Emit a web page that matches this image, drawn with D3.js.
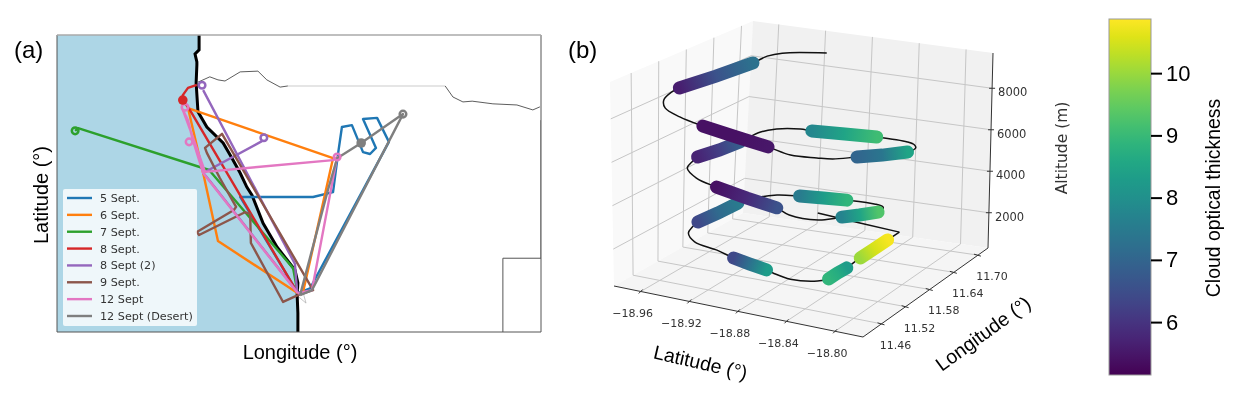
<!DOCTYPE html>
<html>
<head>
  <meta charset="utf-8">
  <title>Flight tracks and cloud optical thickness</title>
  <script src="https://d3js.org/d3.v7.min.js"></script>
  <style>
    html, body { margin: 0; padding: 0; background: #fff; }
    svg { display: block; filter: blur(0.5px); }
    .sans { font-family: "Liberation Sans", Arial, sans-serif; }
    .tick { font-family: "DejaVu Sans", sans-serif; fill: #333; }
  </style>
</head>
<body>
  <svg width="1236" height="397"></svg>

  <script>
    // ---- panel (a): lon,lat in degrees
    const coast = [[11.78,-16.12],[11.78,-16.51],[11.67,-16.62],[11.72,-16.83],[11.72,-16.91],[11.70,-17.38],[11.75,-18.14],[11.99,-18.54],[12.43,-18.96],[12.67,-19.36],[12.89,-19.75],[13.07,-20.12],[13.21,-20.33],[13.51,-21.07],[13.89,-21.70],[14.37,-22.30],[14.45,-22.64],[14.43,-22.96],[14.45,-23.43],[14.45,-23.93]];
    const kunene = [[11.75,-17.36],[12.07,-17.22],[12.29,-17.30],[12.48,-17.33],[12.89,-17.09],[13.37,-17.07],[13.61,-17.30],[13.97,-17.49],[14.18,-17.46]];
    const straightBorder = [[14.18,-17.46],[18.43,-17.46]];
    const zambezi = [[18.43,-17.46],[18.64,-17.75],[18.91,-17.88],[19.16,-17.86],[19.72,-17.93],[20.37,-17.96],[20.80,-18.09],[20.99,-18.01]];
    const eastBorder = [[21.02,-18.36],[21.02,-21.99],[19.99,-21.99],[19.99,-23.93]];
    const hubMark = [[14.45,-22.99],[14.67,-23.17],[14.61,-22.96]];

    const flightNames = ["5 Sept.","6 Sept.","7 Sept.","8 Sept.","8 Sept (2)","9 Sept.","12 Sept","12 Sept (Desert)"];
    const flightColors = ["#1f77b4","#ff7f0e","#2ca02c","#d62728","#9467bd","#8c564b","#e377c2","#7f7f7f"];
    const sept5 = [[14.45,-22.91],[12.89,-20.38],[14.86,-20.38],[15.40,-20.25],[15.53,-19.28],[15.64,-18.54],[15.91,-18.49],[16.21,-19.20],[16.40,-19.25],[16.56,-19.09],[16.21,-18.33],[16.59,-18.30],[16.91,-18.93],[14.78,-22.78],[14.45,-22.91]];
    const sept6 = [[14.45,-22.91],[12.29,-21.54],[11.89,-19.75],[11.48,-18.04],[15.40,-19.36],[14.59,-22.88]];
    const sept7 = [[14.43,-22.83],[14.32,-22.25],[12.05,-19.67],[8.51,-18.57],[8.43,-18.64]];
    const sept8 = [[14.43,-22.88],[11.53,-18.09],[11.34,-17.83],[11.34,-17.70],[11.48,-17.51],[11.72,-17.43]];
    const sept8b = [[14.43,-22.88],[14.37,-22.14],[11.89,-17.57]];
    const sept8c = [[14.43,-22.88],[11.99,-19.86],[11.89,-19.75],[13.48,-18.91]];
    const sept9 = [[14.45,-22.96],[14.05,-23.14],[13.18,-21.59],[13.16,-20.83],[13.02,-20.78],[11.78,-21.38],[11.72,-21.30],[12.72,-20.72],[12.78,-20.64],[12.34,-19.88],[11.99,-19.22],[11.94,-19.09],[12.40,-18.72],[14.86,-22.83],[14.45,-22.96]];
    const sept12 = [[14.45,-22.91],[11.89,-19.75],[11.61,-18.88],[11.48,-18.36],[11.34,-18.09],[11.61,-18.80],[11.94,-19.72],[15.40,-19.41],[15.51,-19.33],[14.83,-22.83],[14.45,-22.91]];
    const sept12d = [[14.51,-22.96],[15.26,-20.20],[15.51,-19.36],[16.16,-18.96],[17.29,-18.20],[14.83,-22.83],[14.51,-22.96]];
    const flights = [sept5, sept6, sept7, sept8, sept8b, sept8c, sept9, sept12, sept12d];
    const flightColorIdx = [0,1,2,3,4,4,5,6,7];
    const startDots = [[11.34,-17.83,3],[16.16,-18.96,7]];  // lon, lat, flight index
    const turnRings = [[8.43,-18.64,2],[11.86,-17.44,4],[13.53,-18.82,4],[11.51,-18.93,6],[11.40,-18.02,6],[15.51,-19.33,6],[17.29,-18.20,7]];

    // ---- panel (b): one flight, black track with thick retrievals
    const trackLat = [-18.908,-18.937,-18.944,-18.948,-18.959,-18.971,-18.973,-18.970,-18.962,-18.945,-18.923,
      -18.898,-18.875,-18.857,-18.840,-18.830,-18.818,-18.806,-18.795,-18.796,-18.801,-18.810,
      -18.838,-18.867,-18.897,-18.908,-18.926,-18.935,-18.940,-18.948,-18.958,-18.958,-18.955,
      -18.939,-18.919,-18.894,-18.871,-18.858,-18.837,-18.829,-18.827,-18.820,-18.813,-18.814,
      -18.817,-18.826,-18.850,-18.871,-18.892,-18.910,-18.921,-18.933,-18.938,-18.944,-18.943,
      -18.940,-18.929,-18.911,-18.897,-18.884,-18.871,-18.865,-18.849,-18.830,-18.825,-18.825,
      -18.824,-18.825,-18.825,-18.825,-18.825,-18.825,-18.861,-18.900];
    const trackLon = [11.697,11.674,11.659,11.638,11.585,11.536,11.525,11.499,11.480,11.466,11.457,
      11.463,11.471,11.472,11.485,11.494,11.517,11.543,11.572,11.595,11.607,11.616,
      11.623,11.630,11.637,11.641,11.636,11.624,11.590,11.565,11.543,11.530,11.511,
      11.487,11.477,11.477,11.481,11.473,11.481,11.499,11.509,11.531,11.556,11.571,
      11.580,11.588,11.589,11.593,11.597,11.595,11.586,11.568,11.535,11.505,11.489,
      11.471,11.454,11.455,11.454,11.455,11.457,11.455,11.450,11.460,11.472,11.494,
      11.514,11.542,11.550,11.583,11.617,11.646,11.655,11.666];
    const trackAlt = [9000,9000,8950,8800,8600,8400,8300,8200,8100,8000,7900,
      7600,7300,7100,7000,6950,6900,6800,6700,6600,6550,6500,
      6400,6200,6000,5950,5850,5750,5600,5400,5200,5100,5050,
      5000,4900,4650,4400,4300,4200,4150,4100,4000,3900,3850,
      3800,3750,3700,3550,3400,3300,3200,3000,2850,2700,2650,
      2600,2500,2300,2100,1950,1800,1750,1700,1700,1700,1700,
      1700,1700,1700,1700,1700,1700,1700,1700];
    const trackCot = [null,null,null,7.3,6.6,5.6,null,null,null,null,5.4,
      5.4,5.5,null,null,null,7.0,7.4,8.5,null,null,null,
      9.1,8.5,7.8,null,null,null,6.9,6.2,5.7,null,null,
      null,5.4,5.8,6.6,null,null,null,7.7,8.5,9.3,null,
      null,null,8.9,8.3,7.5,null,null,7.5,7.1,6.4,null,
      null,null,null,6.4,7.3,8.3,null,null,null,8.9,8.7,
      8.3,null,10.0,10.5,10.8,null,null,null];
    const latTicks = [-18.96,-18.92,-18.88,-18.84,-18.80];
    const lonTicks = [11.46,11.52,11.58,11.64,11.70];
    const altTicks = [2000,4000,6000,8000];
    const cotTicks = [6,7,8,9,10];

    const svg = d3.select("svg");
    const minus = v => String(v).replace("-", "\u2212");

    // panel (a)
    const mapX = d3.scaleLinear().domain([7.94,21.02]).range([57,541]);
    const mapY = d3.scaleLinear().domain([-23.93,-16.12]).range([332,35]);
    const mapLine = d3.line().x(d => mapX(d[0])).y(d => mapY(d[1]));

    svg.append("clipPath").attr("id","mapclip").append("rect")
      .attr("x",57).attr("y",35).attr("width",484).attr("height",297);
    const map = svg.append("g").attr("clip-path","url(#mapclip)");

    map.append("path")
      .attr("d", mapLine([[7.94,-16.12]].concat(coast, [[7.94,-23.93]])) + "Z")
      .attr("fill","#add6e6");
    map.append("path").attr("d",mapLine(kunene)).attr("fill","none").attr("stroke","#333").attr("stroke-width",0.8);
    map.append("path").attr("d",mapLine(straightBorder)).attr("fill","none").attr("stroke","#ddd").attr("stroke-width",1.5);
    map.append("path").attr("d",mapLine(zambezi)).attr("fill","none").attr("stroke","#333").attr("stroke-width",0.8);
    map.append("path").attr("d",mapLine(eastBorder)).attr("fill","none").attr("stroke","#555").attr("stroke-width",1);
    map.append("path").attr("d",mapLine(hubMark)).attr("fill","none").attr("stroke","#aaa").attr("stroke-width",0.7);
    map.append("path").attr("d",mapLine(coast)).attr("fill","none").attr("stroke","#000").attr("stroke-width",3);

    flights.forEach((f,i) => {
      map.append("path").attr("d",mapLine(f)).attr("fill","none")
        .attr("stroke",flightColors[flightColorIdx[i]]).attr("stroke-width",2.4)
        .attr("stroke-linejoin","round");
    });
    turnRings.forEach(d => {
      map.append("circle").attr("cx",mapX(d[0])).attr("cy",mapY(d[1])).attr("r",3.3)
        .attr("fill","none").attr("stroke",flightColors[d[2]]).attr("stroke-width",2.5);
    });
    startDots.forEach(d => {
      map.append("circle").attr("cx",mapX(d[0])).attr("cy",mapY(d[1])).attr("r",4.8).attr("fill",flightColors[d[2]]);
    });

    svg.append("path").attr("d","M57,35V332H541V35").attr("fill","none").attr("stroke","#555").attr("stroke-width",1);
    svg.append("path").attr("d","M57,35H541").attr("fill","none").attr("stroke","#aaa").attr("stroke-width",1.5);

    svg.append("rect").attr("x",63).attr("y",189).attr("width",134).attr("height",137).attr("rx",2)
      .attr("fill","#fff").attr("fill-opacity",0.8);
    const legendY = d3.scalePoint().domain(flightNames).range([198,316]);
    flightNames.forEach((n,i) => {
      const y = legendY(n);
      svg.append("line").attr("x1",67).attr("x2",92).attr("y1",y).attr("y2",y)
        .attr("stroke",flightColors[i]).attr("stroke-width",2.4);
      svg.append("text").attr("class","tick").attr("x",100).attr("y",y+4)
        .attr("font-size",11.2).text(n);
    });

    svg.append("text").attr("class","sans").attr("x",14).attr("y",58).attr("font-size",24).text("(a)");
    svg.append("text").attr("class","sans").attr("x",300).attr("y",359).attr("font-size",20)
      .attr("text-anchor","middle").text("Longitude (°)");
    svg.append("text").attr("class","sans").attr("font-size",20).attr("text-anchor","middle")
      .attr("transform","translate(48,195) rotate(-90)").text("Latitude (°)");

    // panel (b): the box corners stand in for matplotlib's 3D projection
    const u = d3.scaleLinear().domain([-18.982,-18.777]).range([0,1]);
    const v = d3.scaleLinear().domain([11.414,11.725]).range([0,1]);
    const w = d3.scaleLinear().domain([300,9700]).range([0,1]);
    const floorBox = [[614,286],[863,337],[988,248],[743,213]];
    const topBox = [[610,82],[866,132],[993,53],[753,21]];
    const bilinear = (c,a,b) => [0,1].map(i =>
      (1-a)*(1-b)*c[0][i] + a*(1-b)*c[1][i] + a*b*c[2][i] + (1-a)*b*c[3][i]);
    function project(lat, lon, alt) {
      const a = u(lat), b = v(lon), h = w(alt);
      const p = bilinear(floorBox,a,b), q = bilinear(topBox,a,b);
      return [p[0]+(q[0]-p[0])*h, p[1]+(q[1]-p[1])*h];
    }
    const [latA,latB] = u.domain(), [lonA,lonB] = v.domain(), [altA,altB] = w.domain();
    const poly = pts => "M" + pts.map(p => p.join(",")).join("L") + "Z";

    const b3 = svg.append("g");
    b3.append("path").attr("fill","#f9f9f9")
      .attr("d",poly([project(latA,lonA,altA),project(latA,lonB,altA),project(latA,lonB,altB),project(latA,lonA,altB)]));
    b3.append("path").attr("fill","#f1f1f1")
      .attr("d",poly([project(latA,lonB,altA),project(latB,lonB,altA),project(latB,lonB,altB),project(latA,lonB,altB)]));
    b3.append("path").attr("fill","#f5f5f5")
      .attr("d",poly([project(latA,lonA,altA),project(latB,lonA,altA),project(latB,lonB,altA),project(latA,lonB,altA)]));

    const seg = (a,b,col,sw) => b3.append("line")
      .attr("x1",a[0]).attr("y1",a[1]).attr("x2",b[0]).attr("y2",b[1])
      .attr("stroke",col).attr("stroke-width",sw);
    const gridCol = "#c6c6c6";
    latTicks.forEach(t => {
      seg(project(t,lonA,altA),project(t,lonB,altA),gridCol,1);
      seg(project(t,lonB,altA),project(t,lonB,altB),gridCol,1);
    });
    lonTicks.forEach(t => {
      seg(project(latB,t,altA),project(latA,t,altA),gridCol,1);
      seg(project(latA,t,altA),project(latA,t,altB),gridCol,1);
    });
    altTicks.forEach(t => {
      seg(project(latA,lonA,t),project(latA,lonB,t),gridCol,1);
      seg(project(latA,lonB,t),project(latB,lonB,t),gridCol,1);
    });

    seg(project(latA,lonA,altA),project(latB,lonA,altA),"#333",1);
    seg(project(latB,lonA,altA),project(latB,lonB,altA),"#333",1);
    seg(project(latB,lonB,altA),project(latB,lonB,altB),"#333",1);

    latTicks.forEach(t => {
      const p = project(t,lonA,altA);
      seg([p[0]+2,p[1]-2],[p[0]-2,p[1]+2],"#333",1);
      b3.append("text").attr("class","tick").attr("x",p[0]-8).attr("y",p[1]+25.5)
        .attr("font-size",11).attr("text-anchor","middle").text(minus(t.toFixed(2)));
    });
    lonTicks.forEach(t => {
      const p = project(latB,t,altA);
      seg([p[0]-4,p[1]-1],[p[0]+3,p[1]+1],"#333",1);
      b3.append("text").attr("class","tick").attr("x",p[0]+14).attr("y",p[1]+25)
        .attr("font-size",11).attr("text-anchor","middle").text(t.toFixed(2));
    });
    altTicks.forEach(t => {
      const p = project(latB,lonB,t);
      seg([p[0]-3,p[1]],[p[0]+3,p[1]],"#333",1);
      b3.append("text").attr("class","tick").attr("x",p[0]+6).attr("y",p[1]+8)
        .attr("font-size",11.5).text(t);
    });

    const trackPts = trackLat.map((d,i) => project(d,trackLon[i],trackAlt[i]));
    const smooth = d3.line().curve(d3.curveCatmullRom.alpha(0.5));
    const n = trackPts.length;
    b3.append("path").attr("d",smooth(trackPts.slice(0,n-2))).attr("fill","none").attr("stroke","#111").attr("stroke-width",1.5);
    b3.append("path").attr("d",d3.line()(trackPts.slice(n-3))).attr("fill","none").attr("stroke","#111").attr("stroke-width",1.5);

    // colour scale shared by the thick pieces and the colour bar
    const cotScale = d3.scaleLinear().domain([5.15,10.87]).range([0,1]);
    const cotColor = c => d3.interpolateViridis(cotScale(c));

    const legs = [];
    trackCot.forEach((c,i) => {
      if (c === null) return;
      if (i > 0 && trackCot[i-1] !== null) legs[legs.length-1].push(i);
      else legs.push([i]);
    });
    const defs = svg.append("defs");
    legs.slice().reverse().forEach((leg,k) => {
      const a = trackPts[leg[0]], b = trackPts[leg[leg.length-1]];
      const grad = defs.append("linearGradient").attr("id","leg"+k)
        .attr("gradientUnits","userSpaceOnUse")
        .attr("x1",a[0]).attr("y1",a[1]).attr("x2",b[0]).attr("y2",b[1]);
      leg.forEach((idx,j) => {
        grad.append("stop").attr("offset",j/(leg.length-1)).attr("stop-color",cotColor(trackCot[idx]));
      });
      b3.append("path").attr("d",d3.line()(leg.map(i => trackPts[i])))
        .attr("fill","none").attr("stroke","url(#leg"+k+")")
        .attr("stroke-width",13).attr("stroke-linecap","round");
    });

    svg.append("text").attr("class","sans").attr("x",568).attr("y",58).attr("font-size",24).text("(b)");
    svg.append("text").attr("class","sans").attr("font-size",19.5).attr("text-anchor","middle")
      .attr("transform","translate(699,369) rotate(13)").text("Latitude (°)");
    svg.append("text").attr("class","sans").attr("font-size",19.5).attr("text-anchor","middle")
      .attr("transform","translate(987,339) rotate(-36)").text("Longitude (°)");
    svg.append("text").attr("class","tick").attr("font-size",15.5).attr("text-anchor","middle")
      .attr("transform","translate(1067,148) rotate(-90)").text("Altitude (m)");

    // colour bar
    const barY = d3.scaleLinear().domain([5.15,10.87]).range([375,19]);
    const barGrad = defs.append("linearGradient").attr("id","barGrad")
      .attr("x1",0).attr("y1",1).attr("x2",0).attr("y2",0);
    d3.range(0,1.01,0.05).forEach(t => {
      barGrad.append("stop").attr("offset",t).attr("stop-color",d3.interpolateViridis(t));
    });
    svg.append("rect").attr("x",1109).attr("y",19).attr("width",42).attr("height",356)
      .attr("fill","url(#barGrad)").attr("stroke","#999").attr("stroke-width",1);
    const barAxis = d3.axisRight(barY).tickValues(cotTicks).tickFormat(d3.format("d")).tickSize(11).tickPadding(4);
    const barG = svg.append("g").attr("transform","translate(1151,0)").call(barAxis);
    barG.select(".domain").remove();
    barG.selectAll(".tick line").attr("stroke","#000").attr("stroke-width",2);
    barG.selectAll("text").attr("class","sans").attr("fill","#000").attr("font-size",22);
    svg.append("text").attr("class","sans").attr("font-size",19.4).attr("text-anchor","middle")
      .attr("transform","translate(1220,198) rotate(-90)").text("Cloud optical thickness");
  </script>
</body>
</html>
